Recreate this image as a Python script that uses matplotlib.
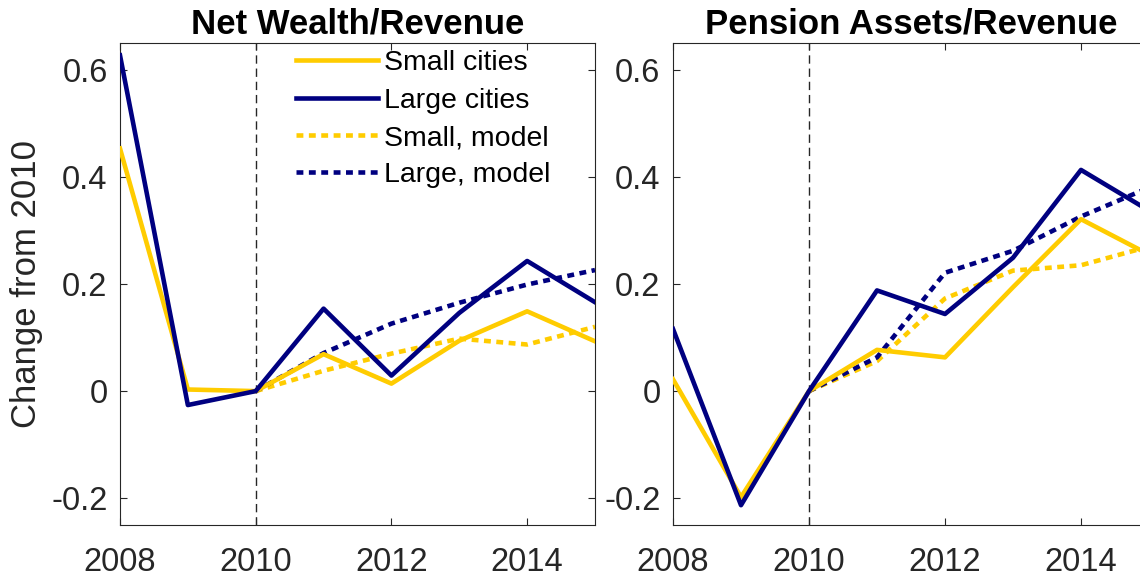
import matplotlib
matplotlib.use("Agg")
import matplotlib.pyplot as plt

plt.rcParams["font.family"] = ["Liberation Sans", "DejaVu Sans"]
plt.rcParams["axes.unicode_minus"] = False

years = [2008, 2009, 2010, 2011, 2012, 2013, 2014, 2015]
model_years = [2010, 2011, 2012, 2013, 2014, 2015]

# Net Wealth/Revenue
nw_small = [0.453, 0.003, 0.0, 0.069, 0.014, 0.094, 0.149, 0.093]
nw_large = [0.627, -0.026, 0.0, 0.154, 0.029, 0.146, 0.243, 0.166]
nw_small_model = [0.0, 0.038, 0.070, 0.098, 0.087, 0.120]
nw_large_model = [0.0, 0.071, 0.126, 0.165, 0.199, 0.226]

# Pension Assets/Revenue
pa_small = [0.022, -0.198, 0.0, 0.077, 0.063, 0.194, 0.321, 0.255]
pa_large = [0.116, -0.213, 0.0, 0.188, 0.144, 0.249, 0.413, 0.337]
pa_small_model = [0.0, 0.056, 0.173, 0.225, 0.235, 0.270]
pa_large_model = [0.0, 0.063, 0.221, 0.262, 0.326, 0.380]

titles = ["Net Wealth/Revenue", "Pension Assets/Revenue"]
yticks = [-0.2, 0, 0.2, 0.4, 0.6]
ytick_labels = ["-0.2", "0", "0.2", "0.4", "0.6"]
xticks = [2008, 2010, 2012, 2014]
labels = ["Small cities", "Large cities", "Small, model", "Large, model"]

YELLOW = "#FFCC00"
NAVY = "#000080"
GRAY = "#262626"
LW = 3.3
DOT = (0, (1.5, 1.2))

W, H = 1140, 577
fig = plt.figure(figsize=(W / 100, H / 100), dpi=100)
ax1 = fig.add_axes([120 / W, (H - 525) / H, 475 / W, 482 / H])
ax2 = fig.add_axes([673 / W, (H - 525) / H, 476 / W, 482 / H])

panels = [
    (ax1, nw_small, nw_large, nw_small_model, nw_large_model),
    (ax2, pa_small, pa_large, pa_small_model, pa_large_model),
]

for i, (ax, small, large, small_m, large_m) in enumerate(panels):
    ax.axvline(2010, color=GRAY, linestyle=(0, (6, 3.5)), linewidth=1.0, zorder=1)
    ax.plot(years, small, color=YELLOW, linewidth=LW, label=labels[0], zorder=3)
    ax.plot(years, large, color=NAVY, linewidth=LW, label=labels[1], zorder=3)
    ax.plot(model_years, small_m, color=YELLOW, linewidth=LW, linestyle=DOT, label=labels[2], zorder=2)
    ax.plot(model_years, large_m, color=NAVY, linewidth=LW, linestyle=DOT, label=labels[3], zorder=2)

    ax.set_xlim(2008, 2015)
    ax.set_ylim(-0.25, 0.65)
    ax.set_xticks(xticks)
    ax.set_xticklabels([str(x) for x in xticks])
    ax.set_yticks(yticks)
    ax.set_yticklabels(ytick_labels)
    ax.tick_params(direction="in", length=5, width=0.8, colors=GRAY, labelsize=23.5,
                   top=True, right=True)
    ax.tick_params(axis="x", pad=16)
    ax.tick_params(axis="y", pad=9)
    for sp in ax.spines.values():
        sp.set_color(GRAY)
        sp.set_linewidth(0.8)
    ax.set_title(titles[i], fontsize=25, fontweight="bold", color="black", pad=7)

ax1.set_ylabel("Change from 2010", fontsize=25, color=GRAY, labelpad=6)

ax1.legend(loc="upper left", bbox_to_anchor=(0.37, 0.985), frameon=False,
           fontsize=20.5, handlelength=2.9, handletextpad=0.2, labelspacing=0.4,
           borderpad=0, borderaxespad=0)

fig.savefig("out.png", dpi=100)
